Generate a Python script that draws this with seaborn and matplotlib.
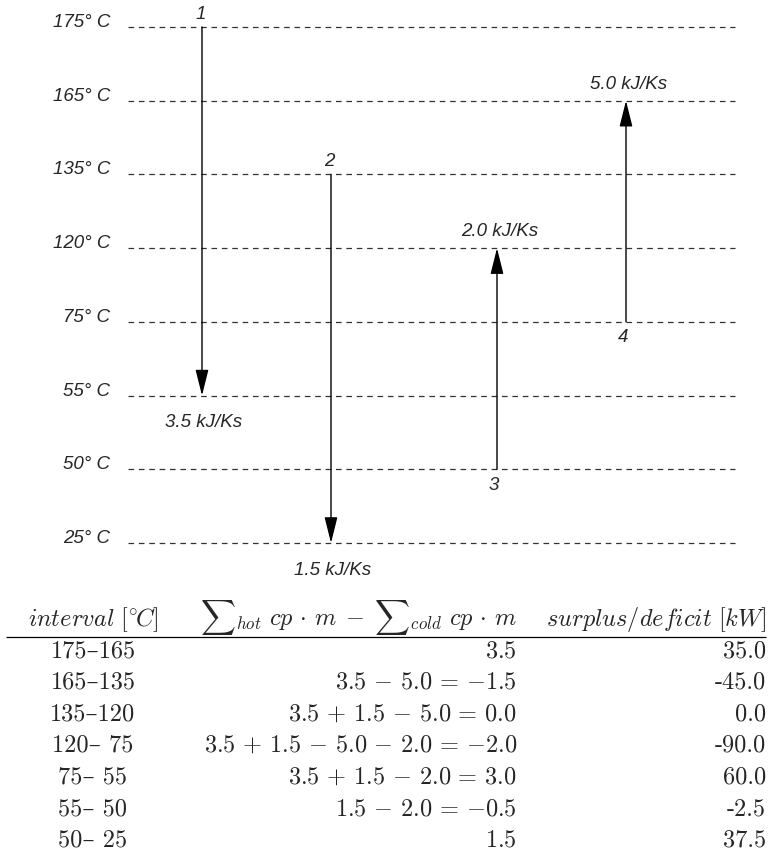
import matplotlib
matplotlib.use("Agg")
import matplotlib.pyplot as plt
import seaborn as sns

# temperature levels of the interval diagram (top to bottom)
temps = [175, 165, 135, 120, 75, 55, 50, 25]

# process streams
stream_ids = ["1", "2", "3", "4"]
stream_from = [175, 135, 50, 75]
stream_to = [55, 25, 120, 165]
stream_cp = [3.5, 1.5, 2.0, 5.0]

# table below the diagram
headers = [r"$\mathit{interval}\ [^{\circ}\!C]$",
           r"${\sum}_{hot}\ cp\,\cdot\,m\;-\;{\sum}_{cold}\ cp\,\cdot\,m$",
           r"$\mathit{surplus/deficit}\ [kW]$"]
intervals = ["175–165", "165–135", "135–120", "120– 75", "75– 55", "55– 50", "50– 25"]
balances = [r"$3.5$",
            r"$3.5\,-\,5.0\,=\,{-1.5}$",
            r"$3.5\,+\,1.5\,-\,5.0\,=\,0.0$",
            r"$3.5\,+\,1.5\,-\,5.0\,-\,2.0\,=\,{-2.0}$",
            r"$3.5\,+\,1.5\,-\,2.0\,=\,3.0$",
            r"$1.5\,-\,2.0\,=\,{-0.5}$",
            r"$1.5$"]
surplus = [35.0, -45.0, 0.0, -90.0, 60.0, -2.5, 37.5]

sns.set_style("white")
plt.rcParams["mathtext.fontset"] = "cm"

W, H = 769, 855
fig = plt.figure(figsize=(W / 100, H / 100), dpi=100)

# --- interval diagram: y = level index, x = pixels
top, bot = 27, 543
ax = fig.add_axes([0, 1 - bot / H, 1, (bot - top) / H])
ax.set_xlim(0, W)
ax.set_ylim(len(temps) - 1, 0)
ax.axis("off")
level = {t: i for i, t in enumerate(temps)}

sans = dict(family=["Liberation Sans", "DejaVu Sans"], style="italic", fontsize=13.5)

ax.hlines(range(len(temps)), 128, 735, colors="#333333", lw=0.9,
          linestyles=(0, (4.5, 3.8)), clip_on=False)
for t in temps:
    ax.text(110, level[t], f"{t}° C", ha="right", va="baseline", clip_on=False, **sans)

stream_x = [202, 331, 497, 626]
for sid, t0, t1, cp, x in zip(stream_ids, stream_from, stream_to, stream_cp, stream_x):
    y0, y1 = level[t0], level[t1]
    ax.annotate("", xy=(x, y1), xytext=(x, y0),
                arrowprops=dict(arrowstyle="-|>,head_length=0.8,head_width=0.2",
                                mutation_scale=20, lw=1, color="black",
                                shrinkA=0, shrinkB=0), annotation_clip=False)
    if t0 > t1:  # hot stream, goes down
        ax.annotate(sid, (x, y0), xytext=(-1, 3), textcoords="offset points",
                    ha="center", va="bottom", annotation_clip=False, **sans)
        ax.annotate(f"{cp:.1f} kJ/Ks", (x, y1), xytext=(1, -19.5), textcoords="offset points",
                    ha="center", va="center", annotation_clip=False, **sans)
    else:  # cold stream, goes up
        ax.annotate(sid, (x, y0), xytext=(-2, -11.5), textcoords="offset points",
                    ha="center", va="center", annotation_clip=False, **sans)
        ax.annotate(f"{cp:.1f} kJ/Ks", (x, y1), xytext=(2, 12), textcoords="offset points",
                    ha="center", va="center", annotation_clip=False, **sans)

# --- table: pixel coordinates
tx = fig.add_axes([0, 0, 1, 1], zorder=-1)
tx.set_xlim(0, W)
tx.set_ylim(H, 0)
tx.axis("off")

serif = dict(family=["cmr10", "DejaVu Serif"], fontsize=17.5)
col_x = [93, 517, 766]
col_ha = ["center", "right", "right"]

for h, x, ha in zip(headers, col_x, col_ha):
    tx.text(x, 626, h, ha=ha, va="baseline", **serif)
tx.hlines(637, 6, 766, colors="black", lw=0.9)

row0, step = 657, 31.6
for i, (iv, bal, s) in enumerate(zip(intervals, balances, surplus)):
    y = row0 + step * i
    tx.text(col_x[0], y, iv, ha="center", va="baseline", **serif)
    tx.text(col_x[1], y, bal, ha="right", va="baseline", **serif)
    tx.text(col_x[2], y, f"{s:.1f}", ha="right", va="baseline", **serif)

fig.savefig("out.png", dpi=100)
